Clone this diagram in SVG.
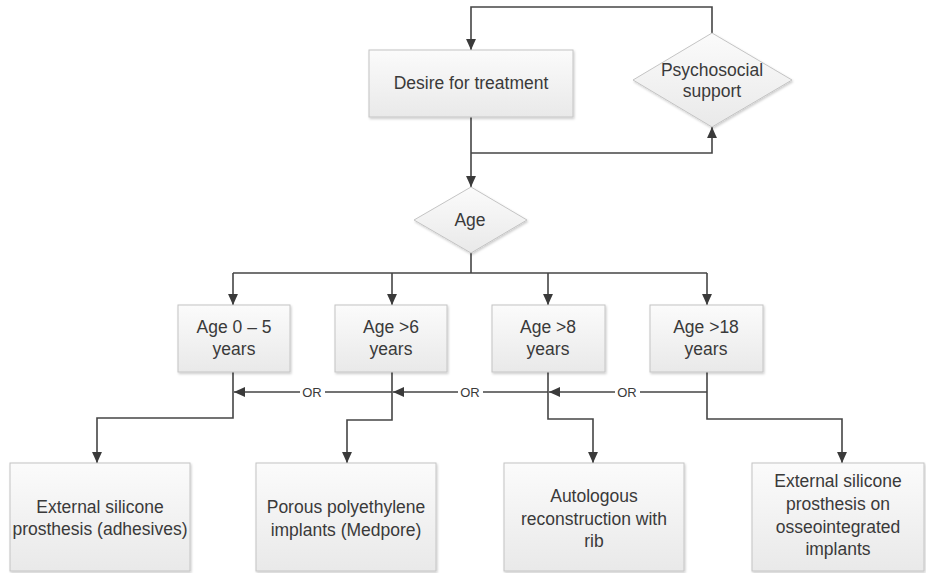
<svg xmlns="http://www.w3.org/2000/svg" width="926" height="573" viewBox="0 0 926 573">
<style>
  .box { fill: url(#g); stroke: #c4c4c4; stroke-width: 1; filter: url(#sh); }
  .t { font-family: "Liberation Sans", Arial, sans-serif; font-size: 17.5px; fill: #3a3a3a; text-anchor: middle; }
  .or { font-family: "Liberation Sans", Arial, sans-serif; font-size: 13px; fill: #3a3a3a; text-anchor: middle; }
  .ln { fill: none; stroke: #454545; stroke-width: 1.6; }
  .arr { marker-end: url(#ah); }
</style>
<defs>
  <linearGradient id="g" x1="0" y1="0" x2="0" y2="1">
    <stop offset="0" stop-color="#fbfbfb"/>
    <stop offset="1" stop-color="#e9e9e9"/>
  </linearGradient>
  <filter id="sh" x="-10%" y="-10%" width="120%" height="130%">
    <feDropShadow dx="1" dy="1.5" stdDeviation="1" flood-color="#000" flood-opacity="0.2"/>
  </filter>
  <marker id="ah" markerUnits="userSpaceOnUse" markerWidth="11" markerHeight="11" viewBox="0 0 10 10" refX="10" refY="5" orient="auto">
    <path d="M0,0.5 L10,5 L0,9.5 z" fill="#3a3a3a"/>
  </marker>
</defs>
<rect width="926" height="573" fill="#ffffff"/>

<g id="connectors">
  <path class="ln arr" d="M712,33 V7 H471 V50"/>
  <path class="ln arr" d="M471,117 V187"/>
  <path class="ln arr" d="M471,153 H712 V127"/>
  <path class="ln" d="M471,253 V273"/>
  <path class="ln" d="M233,273 H707"/>
  <path class="ln arr" d="M233,273 V305"/>
  <path class="ln arr" d="M392,273 V305"/>
  <path class="ln arr" d="M548,273 V305"/>
  <path class="ln arr" d="M707,273 V305"/>
  <path class="ln arr" d="M233,372 V418 H97 V463"/>
  <path class="ln arr" d="M392,372 V420 H347 V463"/>
  <path class="ln arr" d="M548,372 V419 H593 V463"/>
  <path class="ln arr" d="M707,372 V419 H842 V463"/>
  <path class="ln arr" d="M392,392 H234"/>
  <path class="ln arr" d="M548,392 H393"/>
  <path class="ln arr" d="M707,392 H549"/>
  <rect x="300" y="384" width="25" height="16" fill="#ffffff"/>
  <text class="or" x="312" y="397">OR</text>
  <rect x="458" y="384" width="25" height="16" fill="#ffffff"/>
  <text class="or" x="470" y="397">OR</text>
  <rect x="615" y="384" width="25" height="16" fill="#ffffff"/>
  <text class="or" x="627" y="397">OR</text>
</g>

<g id="desire">
  <rect class="box" x="369" y="50" width="204" height="67"/>
  <text class="t" x="471" y="89">Desire for treatment</text>
</g>

<g id="psychosocial">
  <polygon class="box" points="712,33 792,80 712,127 633,80"/>
  <text class="t" x="712" y="76">Psychosocial</text>
  <text class="t" x="712" y="97">support</text>
</g>

<g id="age">
  <polygon class="box" points="471,187 527,220 471,253 414,220"/>
  <text class="t" x="470" y="226">Age</text>
</g>

<g id="age0-5">
  <rect class="box" x="178" y="305" width="112" height="67"/>
  <text class="t" x="234" y="333">Age 0 – 5</text>
  <text class="t" x="234" y="355">years</text>
</g>
<g id="age6">
  <rect class="box" x="335" y="305" width="112" height="67"/>
  <text class="t" x="391" y="333">Age &gt;6</text>
  <text class="t" x="391" y="355">years</text>
</g>
<g id="age8">
  <rect class="box" x="492" y="305" width="113" height="67"/>
  <text class="t" x="548" y="333">Age &gt;8</text>
  <text class="t" x="548" y="355">years</text>
</g>
<g id="age18">
  <rect class="box" x="650" y="305" width="113" height="67"/>
  <text class="t" x="706" y="333">Age &gt;18</text>
  <text class="t" x="706" y="355">years</text>
</g>

<g id="external-adhesives">
  <rect class="box" x="10" y="463" width="180" height="108"/>
  <text class="t" x="100" y="513">External silicone</text>
  <text class="t" x="100" y="535">prosthesis (adhesives)</text>
</g>
<g id="medpore">
  <rect class="box" x="256" y="463" width="180" height="108"/>
  <text class="t" x="346" y="513">Porous polyethylene</text>
  <text class="t" x="346" y="536">implants (Medpore)</text>
</g>
<g id="autologous">
  <rect class="box" x="504" y="463" width="180" height="108"/>
  <text class="t" x="594" y="502">Autologous</text>
  <text class="t" x="594" y="525">reconstruction with</text>
  <text class="t" x="594" y="547">rib</text>
</g>
<g id="osseointegrated">
  <rect class="box" x="752" y="463" width="172" height="108"/>
  <text class="t" x="838" y="487">External silicone</text>
  <text class="t" x="838" y="510">prosthesis on</text>
  <text class="t" x="838" y="533">osseointegrated</text>
  <text class="t" x="838" y="555">implants</text>
</g>
</svg>
